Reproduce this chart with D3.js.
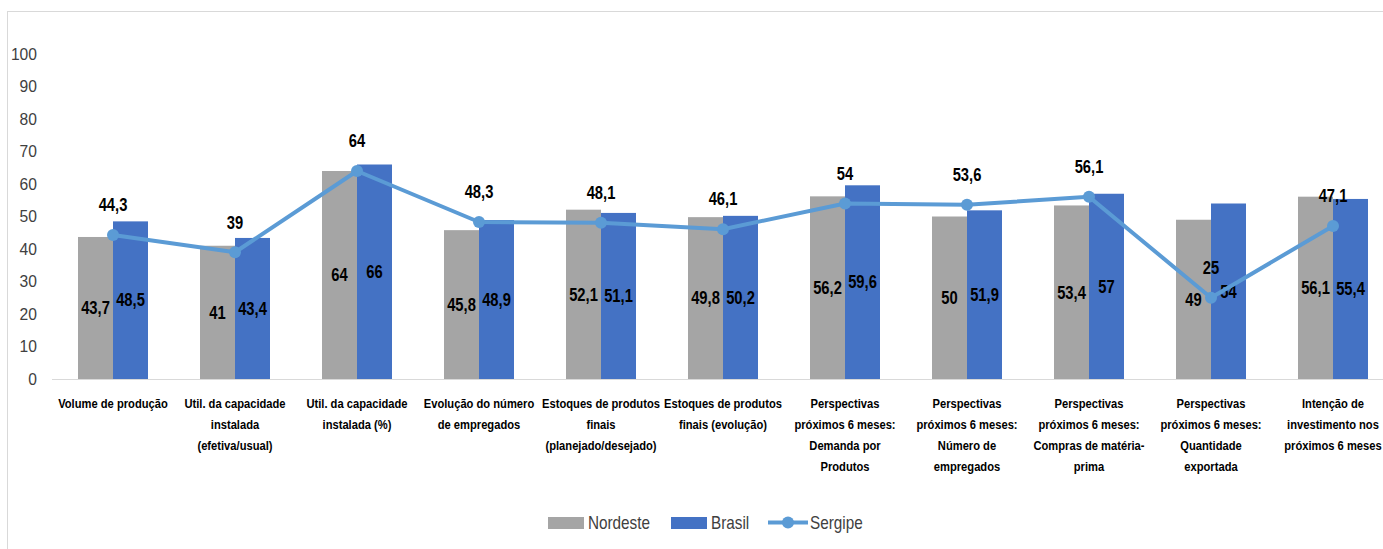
<!DOCTYPE html>
<html>
<head>
<meta charset="utf-8">
<script src="https://cdn.jsdelivr.net/npm/d3@7"></script>
<style>
  body { margin: 0; background: #fff; }
  svg { display: block; }
  text { font-family: "Liberation Sans", Arial, sans-serif; fill: #000; }
</style>
</head>
<body>
<div id="chart"></div>
<script>
const width = 1383;
const height = 549;

// categories, wrapped as in the original
const categories = [
    ["Volume de produção"],
    ["Util. da capacidade", "instalada", "(efetiva/usual)"],
    ["Util. da capacidade", "instalada (%)"],
    ["Evolução do número", "de empregados"],
    ["Estoques de produtos", "finais", "(planejado/desejado)"],
    ["Estoques de produtos", "finais (evolução)"],
    ["Perspectivas", "próximos 6 meses:", "Demanda por", "Produtos"],
    ["Perspectivas", "próximos 6 meses:", "Número de", "empregados"],
    ["Perspectivas", "próximos 6 meses:", "Compras de matéria-", "prima"],
    ["Perspectivas", "próximos 6 meses:", "Quantidade", "exportada"],
    ["Intenção de", "investimento nos", "próximos 6 meses"]
];
const nordeste = [43.7, 41, 64, 45.8, 52.1, 49.8, 56.2, 50, 53.4, 49, 56.1];
const brasil = [48.5, 43.4, 66, 48.9, 51.1, 50.2, 59.6, 51.9, 57, 54, 55.4];
const sergipe = [44.3, 39, 64, 48.3, 48.1, 46.1, 54, 53.6, 56.1, 25, 47.1];
const yTicks = [0, 10, 20, 30, 40, 50, 60, 70, 80, 90, 100];

const colors = { nordeste: "#A5A5A5", brasil: "#4472C4", sergipe: "#5B9BD5" };
const fmt = v => String(v).replace(".", ",");

// narrow the text horizontally around its anchor x (Calibri-like width)
function squeeze(sel, s) {
    sel.attr("transform", function() {
        const ax = +this.getAttribute("x");
        return `translate(${ax},0) scale(${s},1) translate(${-ax},0)`;
    });
}

const svg = d3.select("#chart").append("svg")
    .attr("width", width)
    .attr("height", height);

// chart frame (cropped on the right/bottom)
svg.append("rect")
    .attr("x", 7.5).attr("y", 11.5)
    .attr("width", width).attr("height", height)
    .attr("fill", "none").attr("stroke", "#d9d9d9");

const x = d3.scaleBand()
    .domain(d3.range(categories.length))
    .range([52, 1394]);
const bw = 35;
const y = d3.scaleLinear().domain([0, 100]).range([379, 54]);

// y ticks
svg.append("g").selectAll("text")
    .data(yTicks)
    .enter().append("text")
    .attr("x", 37)
    .attr("y", d => y(d))
    .attr("dy", "0.35em")
    .attr("text-anchor", "end")
    .style("font-size", "17px")
    .style("fill", "#404040")
    .text(d => d)
    .call(squeeze, 0.92);

// baseline
svg.append("line")
    .attr("x1", 52).attr("x2", width)
    .attr("y1", y(0) + 0.5).attr("y2", y(0) + 0.5)
    .attr("stroke", "#d9d9d9");

const cx = i => x(i) + x.bandwidth() / 2;

const bars = svg.append("g");
bars.selectAll(".nord")
    .data(nordeste)
    .enter().append("rect")
    .attr("x", (d, i) => cx(i) - bw)
    .attr("y", d => y(d))
    .attr("width", bw)
    .attr("height", d => y(0) - y(d))
    .attr("fill", colors.nordeste);
bars.selectAll(".bras")
    .data(brasil)
    .enter().append("rect")
    .attr("x", (d, i) => cx(i))
    .attr("y", d => y(d))
    .attr("width", bw)
    .attr("height", d => y(0) - y(d))
    .attr("fill", colors.brasil);

// bar value labels
const lbl = svg.append("g")
    .style("font-size", "18px")
    .style("font-weight", "bold")
    .attr("text-anchor", "middle");
lbl.selectAll(".ln")
    .data(nordeste)
    .enter().append("text")
    .attr("x", (d, i) => cx(i) - bw / 2)
    .attr("y", d => y(d / 2))
    .attr("dy", "0.35em")
    .text(fmt)
    .call(squeeze, 0.82);
lbl.selectAll(".lb")
    .data(brasil)
    .enter().append("text")
    .attr("x", (d, i) => cx(i) + bw / 2)
    .attr("y", d => y(d / 2))
    .attr("dy", "0.35em")
    .text(fmt)
    .call(squeeze, 0.82);

// Sergipe line
const line = d3.line()
    .x((d, i) => cx(i))
    .y(d => y(d));
svg.append("path")
    .datum(sergipe)
    .attr("d", line)
    .attr("fill", "none")
    .attr("stroke", colors.sergipe)
    .attr("stroke-width", 4)
    .attr("stroke-linejoin", "round");
svg.append("g").selectAll("circle")
    .data(sergipe)
    .enter().append("circle")
    .attr("cx", (d, i) => cx(i))
    .attr("cy", d => y(d))
    .attr("r", 6)
    .attr("fill", colors.sergipe);
const lblS = svg.append("g")
    .style("font-size", "18px")
    .style("font-weight", "bold")
    .attr("text-anchor", "middle");
lblS.selectAll("text")
    .data(sergipe)
    .enter().append("text")
    .attr("x", (d, i) => cx(i))
    .attr("y", d => y(d) - 30)
    .attr("dy", "0.35em")
    .text(fmt)
    .call(squeeze, 0.82);

// category labels
const cat = svg.append("g")
    .style("font-size", "13px")
    .style("font-weight", "bold")
    .attr("text-anchor", "middle");
categories.forEach((lines, i) => {
    const t = cat.append("text")
        .attr("x", cx(i))
        .attr("y", 408);
    lines.forEach((s, j) => {
        t.append("tspan")
            .attr("x", cx(i))
            .attr("dy", j === 0 ? 0 : 21)
            .text(s);
    });
    t.call(squeeze, 0.86);
});

// legend
const legend = svg.append("g").style("font-size", "18px");
const items = [
    { name: "Nordeste", color: colors.nordeste, type: "bar", x: 548 },
    { name: "Brasil", color: colors.brasil, type: "bar", x: 671 },
    { name: "Sergipe", color: colors.sergipe, type: "line", x: 768 }
];
items.forEach(it => {
    if (it.type === "bar") {
        legend.append("rect")
            .attr("x", it.x).attr("y", 517)
            .attr("width", 36).attr("height", 12)
            .attr("fill", it.color);
    } else {
        legend.append("line")
            .attr("x1", it.x).attr("x2", it.x + 40)
            .attr("y1", 522.5).attr("y2", 522.5)
            .attr("stroke", it.color).attr("stroke-width", 4);
        legend.append("circle")
            .attr("cx", it.x + 20).attr("cy", 522.5).attr("r", 6)
            .attr("fill", it.color);
    }
    legend.append("text")
        .attr("x", it.x + (it.type === "bar" ? 40 : 42))
        .attr("y", 522.5)
        .attr("dy", "0.35em")
        .style("fill", "#404040")
        .text(it.name)
        .call(squeeze, 0.85);
});
</script>
</body>
</html>
